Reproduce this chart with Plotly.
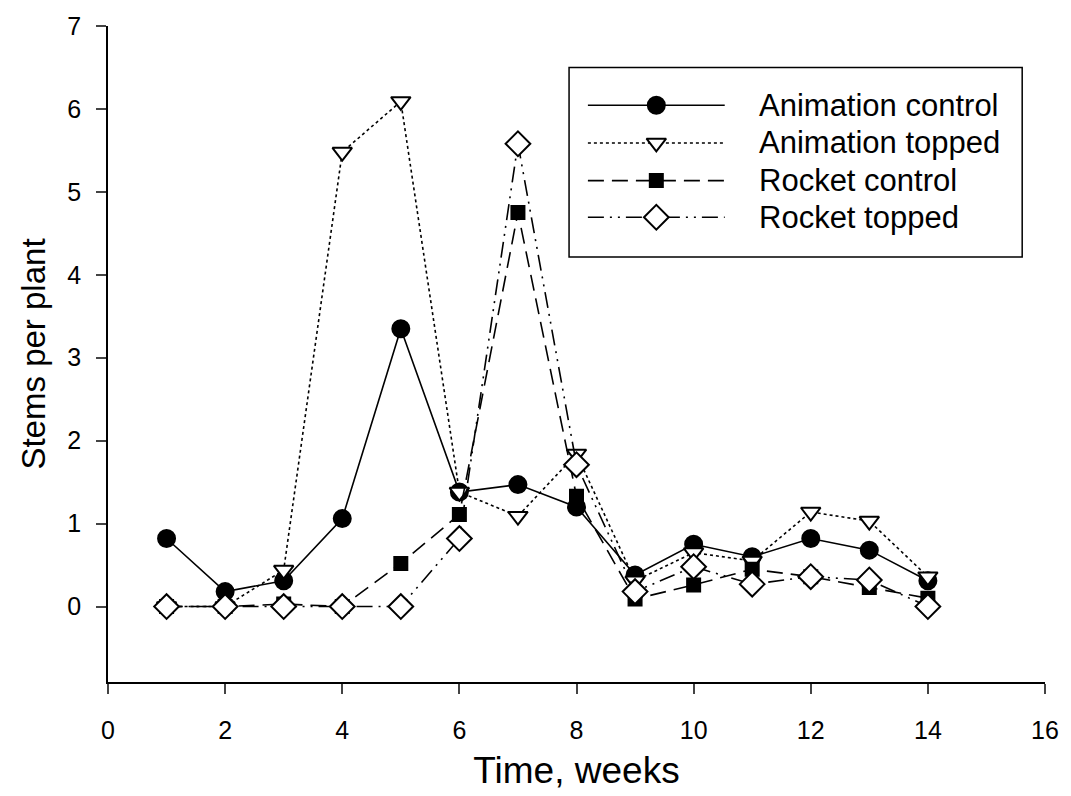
import plotly.graph_objects as go

weeks = [1, 2, 3, 4, 5, 6, 7, 8, 9, 10, 11, 12, 13, 14]
animation_control = [0.82, 0.18, 0.31, 1.06, 3.35, 1.38, 1.47, 1.20, 0.38, 0.75, 0.60, 0.82, 0.68, 0.31]
animation_topped = [0.0, 0.0, 0.44, 5.48, 6.09, 1.38, 1.09, 1.84, 0.31, 0.65, 0.55, 1.14, 1.03, 0.36]
rocket_control = [0.0, 0.0, 0.03, 0.0, 0.52, 1.11, 4.75, 1.33, 0.09, 0.26, 0.45, 0.36, 0.23, 0.10]
rocket_topped = [0.0, 0.0, 0.0, 0.0, 0.0, 0.82, 5.58, 1.71, 0.18, 0.48, 0.27, 0.36, 0.32, 0.0]

series_names = ["Animation control", "Animation topped", "Rocket control", "Rocket topped"]
x_ticks = [0, 2, 4, 6, 8, 10, 12, 14, 16]
y_ticks = [0, 1, 2, 3, 4, 5, 6, 7]

FONT = "Liberation Sans, Arial, sans-serif"
styles = [
    dict(dash="solid", symbol="circle", size=17, fill="black"),
    dict(dash="dot", symbol="triangle-down", size=17, fill="white"),
    dict(dash="16px,8px", symbol="square", size=13, fill="black"),
    dict(dash="16px,6px,2px,6px,2px,6px", symbol="diamond", size=19, fill="white"),
]
series = [animation_control, animation_topped, rocket_control, rocket_topped]

fig = go.Figure()
for name, vals, st in zip(series_names, series, styles):
    fig.add_trace(go.Scatter(
        x=weeks, y=vals, name=name, mode="lines+markers",
        line=dict(color="black", width=1.6, dash=st["dash"]),
        marker=dict(symbol=st["symbol"], size=st["size"], color=st["fill"],
                    line=dict(color="black", width=2)),
        showlegend=False,
    ))

# custom legend drawn on an overlay axis measured in pixels of the plot area
W, H = 1071, 796
ML, MR, MT, MB = 108, 18, 20, 114
leg_rows = [100, 138, 176, 213]
leg_line = (592, 730)
leg_text_x = 763
for name, st, ry in zip(series_names, styles, leg_rows):
    mid = (leg_line[0] + leg_line[1]) / 2
    fig.add_trace(go.Scatter(
        x=[leg_line[0], mid, leg_line[1]], y=[ry, ry, ry],
        mode="lines", line=dict(color="black", width=1.6, dash=st["dash"]),
        xaxis="x2", yaxis="y2", showlegend=False, hoverinfo="skip"))
    fig.add_trace(go.Scatter(
        x=[mid], y=[ry], mode="markers",
        marker=dict(symbol=st["symbol"], size=st["size"], color=st["fill"],
                    line=dict(color="black", width=2)),
        xaxis="x2", yaxis="y2", showlegend=False, hoverinfo="skip"))
    fig.add_annotation(x=leg_text_x, y=ry, xref="x2", yref="y2", text=name,
                       showarrow=False, xanchor="left", yanchor="middle",
                       font=dict(family=FONT, size=31, color="black"))

fig.add_shape(type="rect", xref="x2", yref="y2", x0=573, x1=1030, y0=62, y1=253,
              line=dict(color="black", width=1.5), fillcolor="rgba(0,0,0,0)")

fig.update_layout(
    width=W, height=H,
    margin=dict(l=ML, r=MR, t=MT, b=MB, pad=0),
    plot_bgcolor="white", paper_bgcolor="white",
    font=dict(family=FONT, color="black"),
    xaxis=dict(range=[0, 16], tickvals=x_ticks, ticks="outside", ticklen=10,
               tickwidth=1.5, showline=True, linecolor="black", linewidth=1.5,
               showgrid=False, zeroline=False, tickfont=dict(size=25),
               ticklabelstandoff=15,
               title=dict(text="Time, weeks", font=dict(size=37), standoff=14)),
    yaxis=dict(range=[-0.91, 7], tickvals=y_ticks, ticks="outside", ticklen=10,
               tickwidth=1.5, showline=True, linecolor="black", linewidth=1.5,
               showgrid=False, zeroline=False, tickfont=dict(size=25),
               ticklabelstandoff=10,
               title=dict(text="Stems per plant", font=dict(size=33), standoff=12)),
    xaxis2=dict(overlaying="x", range=[ML, W - MR], visible=False, fixedrange=True),
    yaxis2=dict(overlaying="y", range=[H - MB, MT], visible=False, fixedrange=True),
    showlegend=False,
)

fig.write_html("out.html")
